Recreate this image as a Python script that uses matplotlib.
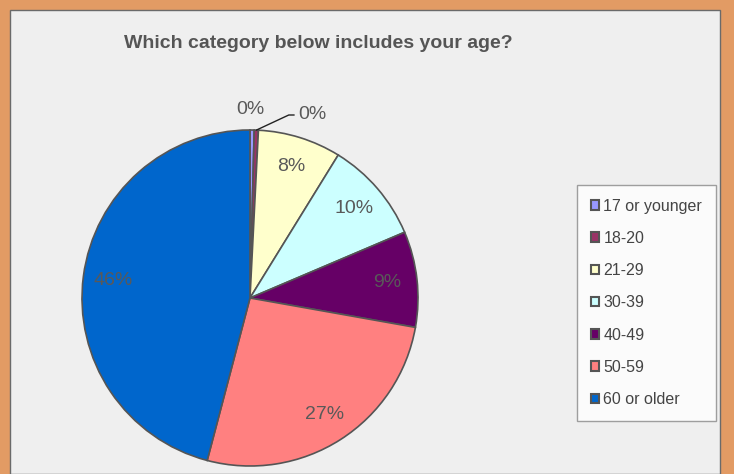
import numpy as np
import matplotlib.pyplot as plt
from matplotlib.patches import Rectangle

categories = ["17 or younger", "18-20", "21-29", "30-39", "40-49", "50-59", "60 or older"]
shares = [0.4, 0.4, 8.0, 9.8, 9.2, 26.3, 45.9]
pct_labels = ["0%", "0%", "8%", "10%", "9%", "27%", "46%"]
colors = ["#9999ff", "#993366", "#ffffcc", "#ccffff", "#660066", "#ff8080", "#0066cc"]

W, H = 734, 474
fig = plt.figure(figsize=(W / 100, H / 100), dpi=100)
fig.patch.set_facecolor("#e29b64")

# grey chart panel
panel = Rectangle((10 / W, 0), 710 / W, 464 / H, transform=fig.transFigure,
                  facecolor="#efefef", edgecolor="#6a6a6a", linewidth=1.0, zorder=-10)
fig.patches.append(panel)

fig.text(318 / W, 1 - 44 / H, "Which category below includes your age?",
         ha="center", va="center", fontsize=14, fontweight="bold",
         family="Liberation Sans", color="#555555")

cx, cy, r = 250, 298, 168
ax = fig.add_axes([(cx - r) / W, (H - cy - r) / H, 2 * r / W, 2 * r / H])

wedges, _ = ax.pie(shares, colors=colors, startangle=90, counterclock=False, radius=1,
                   wedgeprops=dict(edgecolor="#555555", linewidth=1.2))
ax.set_xlim(-1, 1)
ax.set_ylim(-1, 1)
ax.axis("off")

lbl = dict(fontsize=14, color="#595959", family="Liberation Sans")
for i, w in enumerate(wedges):
    mid = np.deg2rad((w.theta1 + w.theta2) / 2)
    if i == 0:
        ax.text(1.12 * np.cos(mid) - 0.01, 1.12 * np.sin(mid), pct_labels[i],
                ha="center", va="center", clip_on=False, **lbl)
    elif i == 1:
        x0, y0 = np.cos(mid), np.sin(mid)
        ax.annotate(pct_labels[i], xy=(x0, y0), xytext=(x0 + 0.25, y0 + 0.09),
                    ha="left", va="center", annotation_clip=False, **lbl,
                    arrowprops=dict(arrowstyle="-", color="#222222", lw=1.0,
                                    connectionstyle="angle,angleA=0,angleB=25,rad=0",
                                    shrinkA=1, shrinkB=0))
    else:
        ax.text(0.82 * np.cos(mid), 0.82 * np.sin(mid), pct_labels[i],
                ha="center", va="center", **lbl)

# legend
handles = [Rectangle((0, 0), 1, 1, facecolor=c, edgecolor="#555555", linewidth=1.5) for c in colors]
leg = fig.legend(handles, categories, loc="upper left",
                 bbox_to_anchor=(577 / W, 1 - 185 / H), frameon=True, fancybox=False,
                 prop=dict(family="Liberation Sans", size=11.5), labelcolor="#444444",
                 handlelength=0.55, handleheight=0.55, handletextpad=0.25,
                 labelspacing=1.08, borderpad=0.85, borderaxespad=0)
leg.get_frame().set_edgecolor("#888888")
leg.get_frame().set_linewidth(1.0)

fig.savefig("out.png", dpi=100, facecolor=fig.get_facecolor())
